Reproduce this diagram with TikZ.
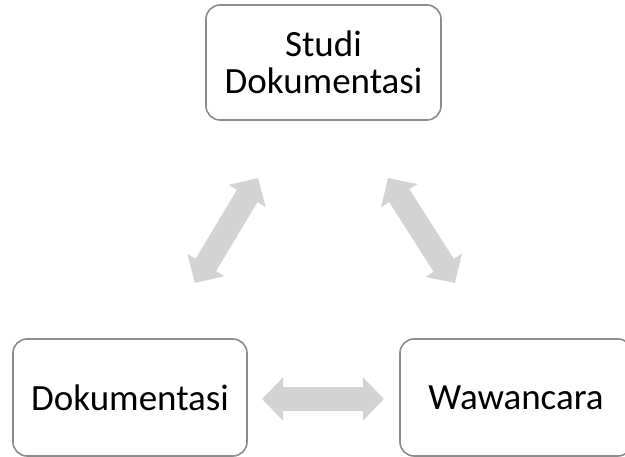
\documentclass[tikz,border=0pt]{standalone}
\usepackage{fontspec}
\setmainfont{Carlito}
\usetikzlibrary{arrows.meta}
\definecolor{boxline}{HTML}{8C8C8C}
\definecolor{arrowgray}{HTML}{D3D3D3}
\begin{document}
\begin{tikzpicture}[x=1pt,y=-1pt,
  box/.style={draw=boxline, line width=1.6pt, rounded corners=14pt, fill=white,
    align=center, inner sep=0pt, font=\fontsize{37}{37}\selectfont},
  dblarrow/.style={draw=arrowgray, line width=24pt,
    {Triangle[length=21pt,width=42pt]}-{Triangle[length=21pt,width=42pt]}}]
\useasboundingbox (0,0) rectangle (625,457);
\clip (0,0) rectangle (625,457);
\node[box, minimum width=235pt, minimum height=115pt] (top) at (323.5,62.5) {Studi\\Dokumentasi};
\node[box, minimum width=234pt, minimum height=117pt] (bl) at (130,397.5) {Dokumentasi};
\node[box, minimum width=232pt, minimum height=117pt] (br) at (516,397.5) {Wawancara};
\coordinate (l1) at (195,283);
\coordinate (l2) at (258,178);
\coordinate (r1) at (388,178);
\coordinate (r2) at (455,283);
\coordinate (h1) at (262,399);
\coordinate (h2) at (384,399);
\draw[dblarrow] (l1) -- (l2);
\draw[dblarrow] (r1) -- (r2);
\draw[dblarrow] (h1) -- (h2);
\end{tikzpicture}
\end{document}
